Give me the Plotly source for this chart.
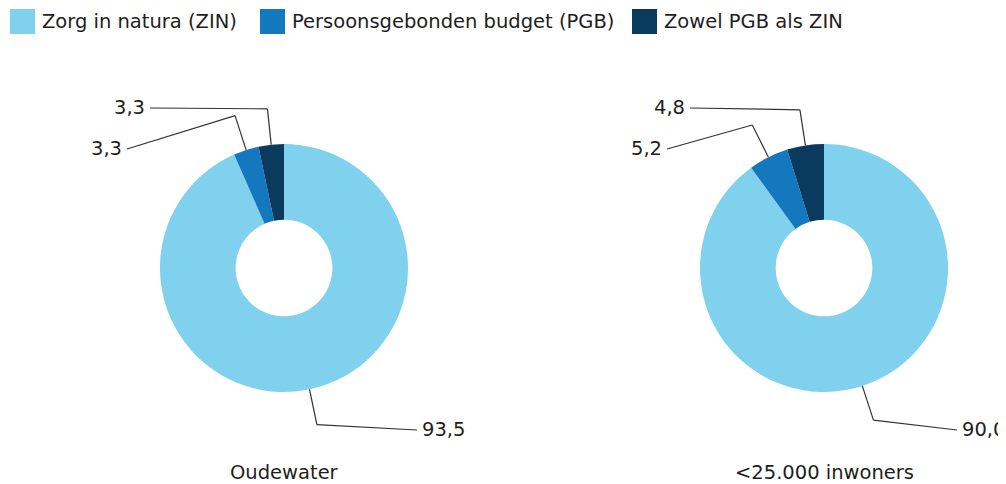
import math
import plotly.graph_objects as go

# ---- data ----
categories = ["Zorg in natura (ZIN)", "Persoonsgebonden budget (PGB)", "Zowel PGB als ZIN"]
oudewater = [93.5, 3.3, 3.3]
kleine_gemeenten = [90.0, 5.2, 4.8]
titles = ["Oudewater", "<25.000 inwoners"]
series = [oudewater, kleine_gemeenten]

# ---- styling / layout ----
colors = ["#7fd1ee", "#1478be", "#0b3a5f"]
W, H = 1006, 484
OFF = 8  # page body margin
FW, FH = W - OFF, H - OFF
centers = [(284, 268), (824, 268)]
R = 124
HOLE = 0.39
BEND_R = 160
# label anchor offsets (pixels) relative to pie center, per category
label_off = [(133, 162), (-157, -119), (-134, -160)]
FONT = "DejaVu Sans"
FS = 19.5
TXT = "#1e1e1e"


def px(x):
    return (x - OFF) / FW


def py(y):
    return 1 - (y - OFF) / FH


fig = go.Figure()
shapes = []
annotations = []

for (cx, cy), vals, title in zip(centers, series, titles):
    fig.add_trace(go.Pie(
        values=vals, labels=categories, sort=False, direction="clockwise",
        rotation=0, hole=HOLE, textinfo="none", showlegend=False,
        marker=dict(colors=colors, line=dict(width=0)),
        domain=dict(x=[px(cx - R), px(cx + R)], y=[py(cy + R), py(cy - R)]),
    ))
    total = sum(vals)
    cum = 0
    for i, v in enumerate(vals):
        mid = (cum + v / 2) / total * 2 * math.pi
        cum += v
        sx, sy = cx + R * math.sin(mid), cy - R * math.cos(mid)
        bx, by = cx + BEND_R * math.sin(mid), cy - BEND_R * math.cos(mid)
        dx, dy = label_off[i]
        ex, ey = cx + dx, cy + dy
        for (x0, y0, x1, y1) in [(sx, sy, bx, by), (bx, by, ex, ey)]:
            shapes.append(dict(type="line", xref="paper", yref="paper",
                               x0=px(x0), y0=py(y0), x1=px(x1), y1=py(y1),
                               line=dict(color="#333333", width=1.2)))
        txt = f"{v:.1f}".replace(".", ",")
        right = dx > 0
        annotations.append(dict(
            x=px(ex + (3 if right else -3)), y=py(ey - 1), xref="paper", yref="paper",
            text=txt, showarrow=False, xanchor="left" if right else "right",
            yanchor="middle", font=dict(family=FONT, size=FS, color=TXT)))
    annotations.append(dict(
        x=px(cx), y=py(472), xref="paper", yref="paper", text=title,
        showarrow=False, xanchor="center", yanchor="middle",
        font=dict(family=FONT, size=FS, color=TXT)))

# custom legend
legend_x = [10, 260, 632]
for lx, cat, col in zip(legend_x, categories, colors):
    shapes.append(dict(type="rect", xref="paper", yref="paper",
                       x0=px(lx), x1=px(lx + 25), y0=py(34), y1=py(9),
                       fillcolor=col, line=dict(width=0)))
    annotations.append(dict(
        x=px(lx + 30), y=py(21.5), xref="paper", yref="paper", text=cat,
        showarrow=False, xanchor="left", yanchor="middle",
        font=dict(family=FONT, size=FS, color=TXT)))

fig.update_layout(
    width=FW, height=FH, margin=dict(l=0, r=0, t=0, b=0),
    paper_bgcolor="white", plot_bgcolor="white",
    shapes=shapes, annotations=annotations, showlegend=False,
)

fig.write_html("out.html")
